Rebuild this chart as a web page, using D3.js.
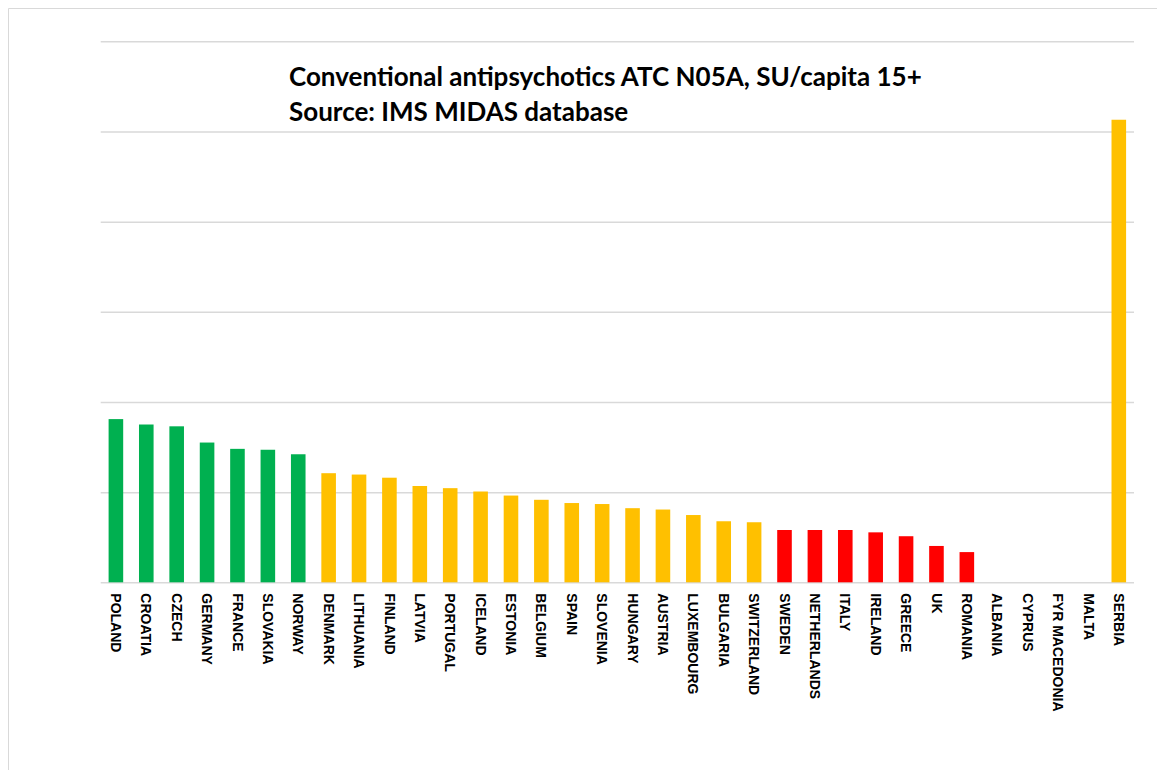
<!DOCTYPE html>
<html>
<head>
<meta charset="utf-8">
<script src="https://cdn.jsdelivr.net/npm/d3@7"></script>
<style>
	body { margin: 0; background: #fff; }
	svg { display: block; }
	.title { font-family: Lato, "Open Sans", sans-serif; font-weight: bold; font-size: 26px; fill: #000; }
	.x-label { font-family: "Liberation Sans", Arial, sans-serif; font-weight: bold; font-size: 14px; fill: #000; }
</style>
</head>
<body>
<div id="chart-area"></div>
<script>
// categories and values (in gridline units)
var countries = ["POLAND", "CROATIA", "CZECH", "GERMANY", "FRANCE", "SLOVAKIA", "NORWAY",
	"DENMARK", "LITHUANIA", "FINLAND", "LATVIA", "PORTUGAL", "ICELAND", "ESTONIA", "BELGIUM",
	"SPAIN", "SLOVENIA", "HUNGARY", "AUSTRIA", "LUXEMBOURG", "BULGARIA", "SWITZERLAND",
	"SWEDEN", "NETHERLANDS", "ITALY", "IRELAND", "GREECE", "UK", "ROMANIA",
	"ALBANIA", "CYPRUS", "FYR MACEDONIA", "MALTA", "SERBIA"];

var values = [1.81, 1.75, 1.73, 1.55, 1.48, 1.47, 1.42,
	1.21, 1.195, 1.16, 1.068, 1.044, 1.007, 0.962, 0.915,
	0.879, 0.868, 0.822, 0.807, 0.746, 0.677, 0.666,
	0.58, 0.58, 0.58, 0.554, 0.511, 0.403, 0.335,
	0, 0, 0, 0, 5.13];

var groups = ["high", "high", "high", "high", "high", "high", "high",
	"mid", "mid", "mid", "mid", "mid", "mid", "mid", "mid",
	"mid", "mid", "mid", "mid", "mid", "mid", "mid",
	"low", "low", "low", "low", "low", "low", "low",
	"mid", "mid", "mid", "mid", "mid"];

var gridTicks = [0, 1, 2, 3, 4, 5, 6];

var titleLines = ["Conventional antipsychotics ATC N05A, SU/capita 15+", "Source: IMS MIDAS database"];

var data = countries.map(function(c, i){
	return { country: c, value: values[i], group: groups[i] };
});

var width = 1157, height = 770;
var plot = { left: 100.7, right: 1134, top: 41.3, bottom: 582.3 };

var svg = d3.select("#chart-area")
	.append("svg")
		.attr("width", width)
		.attr("height", height);

// outer frame (top and left edges only show)
svg.append("path")
	.attr("d", "M8.5," + height + "V8.5H" + width)
	.attr("fill", "none")
	.attr("stroke", "#d9d9d9")
	.attr("stroke-width", 1);

var groupColor = d3.scaleOrdinal()
	.domain(["high", "mid", "low"])
	.range(["#00b050", "#ffc000", "#ff0000"]);

//scales
var x = d3.scaleBand()
	.domain(countries)
	.range([plot.left, plot.right])
	.paddingInner(0.52)
	.paddingOuter(0.26);

var y = d3.scaleLinear()
	.domain([0, 6])
	.range([plot.bottom, plot.top]);

//gridlines
var yAxisCall = d3.axisLeft(y)
	.tickValues(gridTicks)
	.tickSize(-(plot.right - plot.left))
	.tickFormat("");

var grid = svg.append("g")
	.attr("class", "grid")
	.attr("transform", "translate(" + plot.left + ", 0)")
	.call(yAxisCall);
grid.select(".domain").remove();
grid.selectAll(".tick line")
	.attr("stroke", "#d9d9d9")
	.attr("stroke-width", 1.5);

//bars
svg.append("g")
	.selectAll("rect")
	.data(data)
	.enter()
	.append("rect")
		.attr("x", function(d){ return x(d.country); })
		.attr("width", x.bandwidth())
		.attr("y", function(d){ return y(d.value); })
		.attr("height", function(d){ return y(0) - y(d.value); })
		.attr("fill", function(d){ return groupColor(d.group); });

//category labels, rotated to read top to bottom
svg.append("g")
	.selectAll("text")
	.data(countries)
	.enter()
	.append("text")
		.attr("class", "x-label")
		.attr("transform", function(d){
			return "translate(" + (x(d) + x.bandwidth() / 2) + ", " + (plot.bottom + 11) + ") rotate(90)";
		})
		.attr("dy", "0.35em")
		.attr("text-anchor", "start")
		.text(function(d){ return d; });

//title
svg.append("g")
	.selectAll("text")
	.data(titleLines)
	.enter()
	.append("text")
		.attr("class", "title")
		.attr("x", 289)
		.attr("y", function(d, i){ return 86 + i * 35; })
		.text(function(d){ return d; });
</script>
</body>
</html>
